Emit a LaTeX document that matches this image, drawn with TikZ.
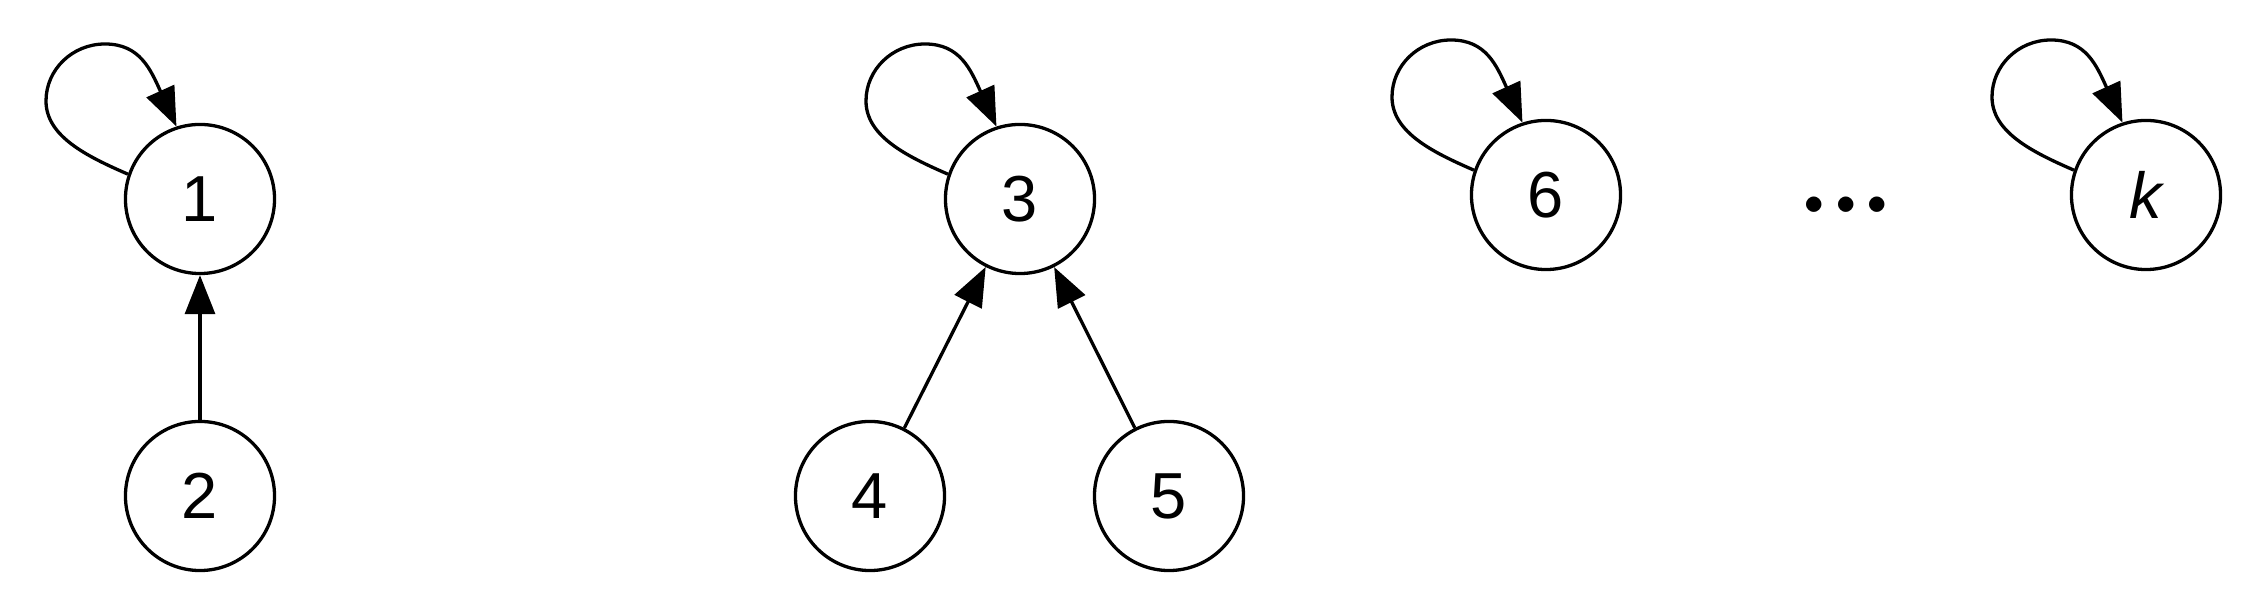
\documentclass[tikz,border=0pt]{standalone}
\usepackage{fontspec}
\setmainfont{Liberation Sans}
\usetikzlibrary{arrows.meta,calc}
\tikzset{
  vertex/.style={circle,draw,line width=0.033cm,minimum size=1.49cm,inner sep=0pt,
    font=\fontsize{18.5}{22}\selectfont},
  edge/.style={line width=0.033cm,-{Triangle[length=0.39cm,width=0.30cm]}},
  ellipsis/.style={inner sep=0pt,scale=2.81,anchor=base,font=\mathversion{bold}},
}
\newcommand\selfloop[1]{%
  \draw[edge] (#1.161) .. controls ($(#1)+(-114,43)$) and ($(#1)+(-154,63)$) .. ($(#1)+(-154,98)$)
    .. controls ($(#1)+(-154,129.5)$) and ($(#1)+(-127.6,155)$) .. ($(#1)+(-95,155)$)
    .. controls ($(#1)+(-60,155)$) and ($(#1)+(-49.4,129.4)$) .. (#1.108);}
\begin{document}
\begin{tikzpicture}[x=0.01cm,y=0.01cm]
\useasboundingbox (0,0) rectangle (2266,616);
\node[vertex] (n1) at (200,417) {1};
\node[vertex] (n2) at (200,120) {2};
\node[vertex] (n3) at (1020,417) {3};
\node[vertex] (n4) at (870,120) {4};
\node[vertex] (n5) at (1169,120) {5};
\node[vertex] (n6) at (1546,421) {6};
\node[vertex] (nk) at (2146,421) {\itshape k};
\node[ellipsis] (dots) at (1846,386) {${\cdotp}{\cdotp}{\cdotp}$};
\draw[edge] (n2) -- (n1);
\draw[edge] (n4) -- (n3);
\draw[edge] (n5) -- (n3);
\selfloop{n1}
\selfloop{n3}
\selfloop{n6}
\selfloop{nk}
\end{tikzpicture}
\end{document}
